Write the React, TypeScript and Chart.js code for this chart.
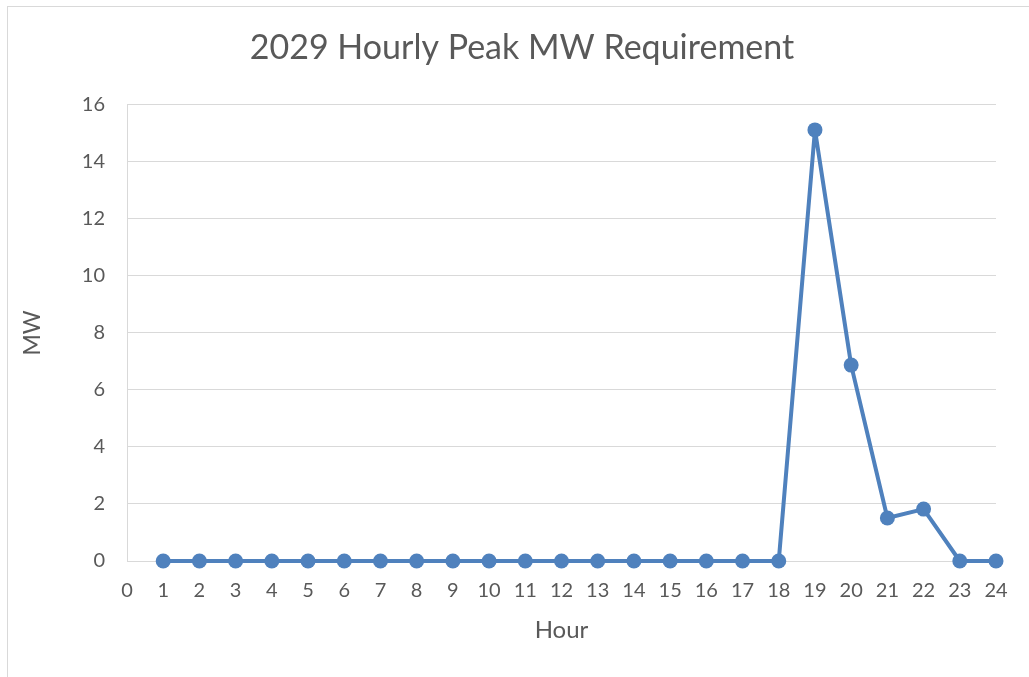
import React, { useEffect, useRef } from "react";
import { Chart, registerables } from "chart.js";

Chart.register(...registerables);

const hours = [1, 2, 3, 4, 5, 6, 7, 8, 9, 10, 11, 12, 13, 14, 15, 16, 17, 18, 19, 20, 21, 22, 23, 24];
const peakMW = [0, 0, 0, 0, 0, 0, 0, 0, 0, 0, 0, 0, 0, 0, 0, 0, 0, 0, 15.12, 6.87, 1.51, 1.82, 0, 0];
const chartTitle = "2029 Hourly Peak MW Requirement";
const xTitle = "Hour";
const yTitle = "MW";

const FONT = "Lato, 'Open Sans', sans-serif";
const TEXT = "#595959";
const GRID = "#d9d9d9";
const LINE = "#4f81bd";

export default function App() {
  const ref = useRef<HTMLCanvasElement | null>(null);
  useEffect(() => {
    if (!ref.current) return;
    const chart = new Chart(ref.current, {
      type: "line",
      data: {
        datasets: [
          {
            data: hours.map((h, i) => ({ x: h, y: peakMW[i] })),
            borderColor: LINE,
            backgroundColor: LINE,
            borderWidth: 4,
            borderJoinStyle: "round",
            borderCapStyle: "round",
            pointRadius: 7.5,
            pointHoverRadius: 7.5,
            pointBorderWidth: 0,
            tension: 0,
            clip: false,
          },
        ],
      },
      options: {
        animation: false,
        responsive: false,
        maintainAspectRatio: false,
        layout: { padding: { left: 40, right: 40, top: 0, bottom: 0 } },
        plugins: {
          legend: { display: false },
          tooltip: { enabled: false },
          title: {
            display: true,
            text: chartTitle,
            color: TEXT,
            font: { family: FONT, size: 34, weight: "normal" },
            padding: { top: 21, bottom: 36 },
          },
        },
        scales: {
          x: {
            type: "linear",
            min: 0,
            max: 24,
            afterFit: (s: any) => {
              s.height = 116;
            },
            ticks: {
              stepSize: 1,
              color: TEXT,
              padding: 18,
              font: { family: FONT, size: 20 },
              maxRotation: 0,
              autoSkip: false,
            },
            grid: { display: false, drawTicks: false },
            border: { display: true, color: GRID, width: 1 },
            title: {
              display: true,
              text: xTitle,
              color: TEXT,
              font: { family: FONT, size: 24 },
              padding: { top: 0, bottom: 32 },
            },
          },
          y: {
            min: 0,
            max: 16,
            afterFit: (s: any) => {
              s.width = 79;
            },
            ticks: {
              stepSize: 2,
              color: TEXT,
              padding: 22,
              font: { family: FONT, size: 20 },
            },
            grid: { color: GRID, lineWidth: 1, drawTicks: false },
            border: { display: true, color: GRID, width: 1 },
            title: {
              display: true,
              text: yTitle,
              color: TEXT,
              font: { family: FONT, size: 23 },
              padding: { top: -29, bottom: 0 },
            },
          },
        },
      },
    });
    return () => chart.destroy();
  }, []);
  return (
    <div
      style={{
        position: "fixed",
        left: 7,
        top: 6,
        width: 1040,
        height: 700,
        border: "1px solid #d9d9d9",
        background: "#fff",
      }}
    >
      <canvas ref={ref} width={1028} height={670} style={{ display: "block" }} />
    </div>
  );
}
